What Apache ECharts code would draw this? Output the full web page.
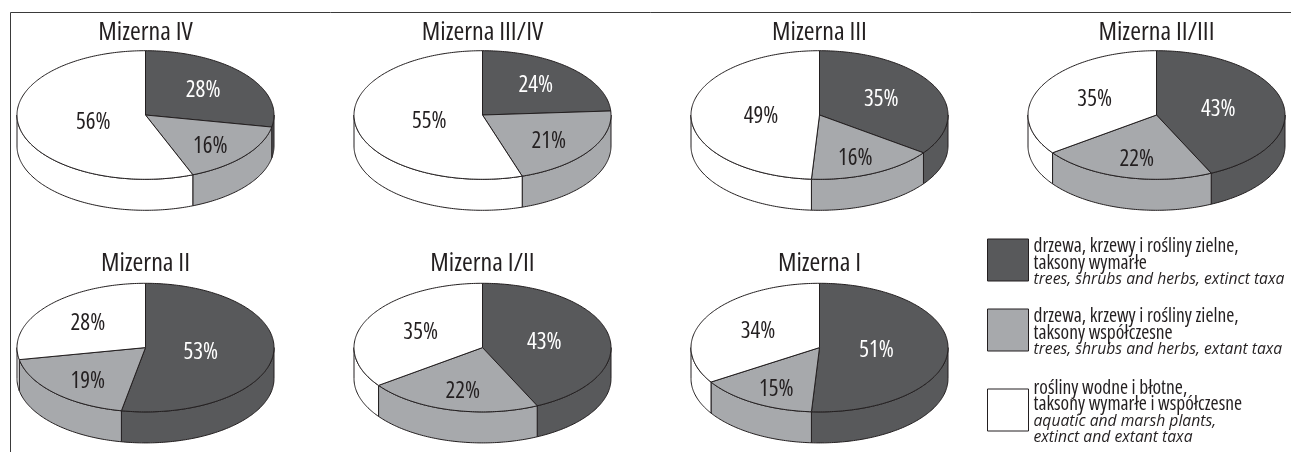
<!DOCTYPE html>
<html><head><meta charset="utf-8">
<script src="https://cdn.jsdelivr.net/npm/echarts@6/dist/echarts.min.js"></script>
<style>html,body{margin:0;padding:0;background:#fff}#c{width:1291px;height:452px}</style>
</head><body><div id="c"></div>
<script>
// ---- data ----
const sites = ['Mizerna IV', 'Mizerna III/IV', 'Mizerna III', 'Mizerna II/III', 'Mizerna II', 'Mizerna I/II', 'Mizerna I'];
const extinctTrees = [28, 24, 35, 43, 53, 43, 51];
const extantTrees = [16, 21, 16, 22, 19, 22, 15];
const aquaticPlants = [56, 55, 49, 35, 28, 35, 34];
const categoryNames = [
  'drzewa, krzewy i rośliny zielne, taksony wymarłe',
  'drzewa, krzewy i rośliny zielne, taksony współczesne',
  'rośliny wodne i błotne, taksony wymarłe i współczesne'
];
const legendPolish = [
  ['drzewa, krzewy i rośliny zielne,', 'taksony wymarłe'],
  ['drzewa, krzewy i rośliny zielne,', 'taksony współczesne'],
  ['rośliny wodne i błotne,', 'taksony wymarłe i współczesne']
];
const legendEnglish = [
  ['trees, shrubs and herbs, extinct taxa'],
  ['trees, shrubs and herbs, extant taxa'],
  ['aquatic and marsh plants,', 'extinct and extant taxa']
];

// ---- layout / style ----
const FONT = '"Open Sans", "Liberation Sans", sans-serif';
const COND = 'condensed';   // font-stretch passed through the canvas font shorthand
const INK = '#231f20';
const colors = ['#58595b', '#a7a9ac', '#ffffff'];
const labelColors = ['#ffffff', INK, INK];
const RX = 128.5, RY = 64.3, DEPTH = 31;
const centers = [[145.5, 115], [482.5, 115], [819.5, 115], [1156.5, 115],
                 [145.5, 347.6], [482.5, 347.6], [819.5, 347.6]];
const seriesValues = [extinctTrees, extantTrees, aquaticPlants];

function makeRender(catIdx) {
  return function (params, api) {
    const i = params.dataIndex;
    const vals = seriesValues.map(s => s[i]);
    const total = vals.reduce((a, b) => a + b, 0);
    let before = 0;
    for (let k = 0; k < catIdx; k++) before += vals[k];
    const v = api.value(0);
    const a0 = before / total, a1 = (before + v) / total;
    const cx = centers[i][0], cy = centers[i][1];
    const P = (a, dy) => [cx + RX * Math.sin(2 * Math.PI * a), cy - RY * Math.cos(2 * Math.PI * a) + (dy || 0)];
    const fill = api.visual('color');
    const children = [];
    const b0 = Math.max(a0, 0.25), b1 = Math.min(a1, 0.75);
    if (b1 > b0) {
      const pts = [];
      const n = Math.max(2, Math.ceil((b1 - b0) * 360));
      for (let s = 0; s <= n; s++) pts.push(P(b0 + (b1 - b0) * s / n));
      for (let s = n; s >= 0; s--) pts.push(P(b0 + (b1 - b0) * s / n, DEPTH));
      children.push({ type: 'polygon', shape: { points: pts },
        style: { fill: fill, stroke: INK, lineWidth: 1, lineJoin: 'round' } });
    }
    const top = [[cx, cy]];
    const n2 = Math.max(2, Math.ceil((a1 - a0) * 360));
    for (let s = 0; s <= n2; s++) top.push(P(a0 + (a1 - a0) * s / n2));
    children.push({ type: 'polygon', shape: { points: top },
      style: { fill: fill, stroke: INK, lineWidth: 1, lineJoin: 'round' } });
    const am = (a0 + a1) * Math.PI;
    const f = 0.75 - 0.6 * (a1 - a0);
    children.push({ type: 'text', x: cx + f * RX * Math.sin(am), y: cy - 1.1 * f * RY * Math.cos(am) + 2,
      style: { text: v + '%', fill: labelColors[catIdx], fontSize: 23, fontFamily: FONT, fontWeight: COND,
               align: 'center', verticalAlign: 'middle' } });
    return { type: 'group', children: children };
  };
}

const legendCenters = [260, 330, 410];
const LH = 16.5;
const TXT_SHIFT = 6;
function legendFormatter(name) {
  const k = categoryNames.indexOf(name);
  const lines = legendPolish[k].map(t => '{pl|' + t + '}').concat(legendEnglish[k].map(t => '{en|' + t + '}'));
  return lines.join('\n');
}
const legends = categoryNames.map((name, k) => {
  const nLines = legendPolish[k].length + legendEnglish[k].length;
  const H = Math.max(42, nLines * LH + TXT_SHIFT);
  return {
    data: [name], left: 987, top: legendCenters[k] - H / 2, orient: 'vertical', padding: 0,
    itemWidth: 41, itemHeight: 42, icon: 'rect', selectedMode: false,
    itemStyle: { borderColor: INK, borderWidth: 1 },
    formatter: legendFormatter,
    textStyle: { fontFamily: FONT, fontSize: 19.5, fontWeight: COND, color: INK, lineHeight: LH,
      padding: [TXT_SHIFT, 0, 0, 0],
      rich: { pl: { fontFamily: FONT, fontSize: 19.5, fontWeight: COND, color: INK, lineHeight: LH },
              en: { fontFamily: FONT, fontSize: 15.7, fontWeight: 'normal', color: INK, lineHeight: LH, fontStyle: 'italic' } } }
  };
});

const titles = sites.map((s, i) => ({
  text: s, left: centers[i][0], top: i < 4 ? 20 : 251, textAlign: 'center', padding: 0,
  textStyle: { fontFamily: FONT, fontSize: 26, fontWeight: COND, color: INK }
}));

const chart = echarts.init(document.getElementById('c'), null, { renderer: 'canvas' });
chart.setOption({
  animation: false,
  backgroundColor: '#ffffff',
  title: titles,
  legend: legends,
  graphic: [
    { type: 'line', shape: { x1: 10.5, y1: 12.5, x2: 1291, y2: 12.5 }, style: { stroke: '#3a3a3a', lineWidth: 1 } },
    { type: 'line', shape: { x1: 10.5, y1: 12.5, x2: 10.5, y2: 452 }, style: { stroke: '#3a3a3a', lineWidth: 1 } }
  ],
  series: categoryNames.map((name, k) => ({
    type: 'custom', name: name, coordinateSystem: 'none',
    itemStyle: { color: colors[k], borderColor: INK, borderWidth: 1 },
    renderItem: makeRender(k),
    data: seriesValues[k]
  }))
});
</script></body></html>
